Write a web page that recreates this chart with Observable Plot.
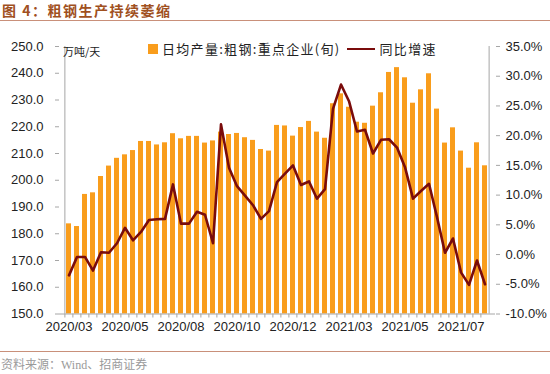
<!DOCTYPE html>
<html><head><meta charset="utf-8">
<script src="https://cdn.jsdelivr.net/npm/d3@7"></script>
<script src="https://cdn.jsdelivr.net/npm/@observablehq/plot@0.6"></script>
<style>
body{margin:0;background:#fff;width:550px;height:374px;overflow:hidden;position:relative;font-family:"Liberation Sans",Arial,sans-serif;}
#title{position:absolute;left:2px;top:0px;font:bold 14px "Noto Sans CJK SC",sans-serif;color:#A0501E;letter-spacing:1.5px;white-space:nowrap}
#tline{position:absolute;left:0;top:20px;width:550px;height:0;border-top:1.5px solid #C9907A}
#chart{position:absolute;left:0;top:22px}
#bline{position:absolute;left:0;top:351px;width:550px;height:0;border-top:1px solid #C9907A}
#source{position:absolute;left:1px;top:355px;font:12px "Liberation Serif","Noto Sans CJK SC",serif;color:#9a9a9a;white-space:nowrap}
#unit{position:absolute;left:63px;top:43px;font:11px "Noto Sans CJK SC",sans-serif;color:#222}
#legend{position:absolute;left:148px;top:39px;font:13px "Noto Sans CJK SC",sans-serif;color:#222;white-space:nowrap;display:flex;align-items:center;letter-spacing:1.3px}
#legend .sw{display:inline-block;width:10px;height:10px;margin-right:4px}
#legend .ln{display:inline-block;width:28px;height:0;border-top:2.6px solid;margin:0 5px 0 6px}
</style></head>
<body>
<div id="title">图 4：粗钢生产持续萎缩</div>
<div id="tline"></div>
<div id="chart"></div>
<div id="unit">万吨/天</div>
<div id="legend"></div>
<div id="bline"></div>
<div id="source">资料来源：Wind、招商证券</div>
<script>
// ten-day period end dates
const periods = [
 "2020-03-20","2020-03-31","2020-04-10","2020-04-20","2020-04-30","2020-05-10","2020-05-20","2020-05-31",
 "2020-06-10","2020-06-20","2020-06-30","2020-07-10","2020-07-20","2020-07-31","2020-08-10","2020-08-20",
 "2020-08-31","2020-09-10","2020-09-20","2020-09-30","2020-10-10","2020-10-20","2020-10-31","2020-11-10",
 "2020-11-20","2020-11-30","2020-12-10","2020-12-20","2020-12-31","2021-01-10","2021-01-20","2021-01-31",
 "2021-02-10","2021-02-20","2021-02-28","2021-03-10","2021-03-20","2021-03-31","2021-04-10","2021-04-20",
 "2021-04-30","2021-05-10","2021-05-20","2021-05-31","2021-06-10","2021-06-20","2021-06-30","2021-07-10",
 "2021-07-20","2021-07-31","2021-08-10","2021-08-20","2021-08-31"
];
// 日均产量:粗钢:重点企业(旬), 万吨/天
const production = [
 183.7,182.7,194.7,195.3,201.4,205.3,208.2,209.5,211.1,214.5,
 214.5,213.2,214.0,217.4,215.5,216.4,216.4,213.9,214.7,218.0,
 217.1,217.5,215.9,214.9,211.5,210.9,220.5,220.3,216.5,219.7,
 222.0,218.0,215.7,228.6,232.3,227.3,221.7,221.3,227.7,232.7,
 240.3,242.1,238.3,228.8,233.8,239.8,226.6,213.9,219.6,210.9,
 204.5,214.0,205.4
];
// 同比增速, %
const yoy = [
 -3.5,-0.4,-0.4,-2.7,0.4,0.3,1.9,4.5,2.4,3.8,
 5.8,5.95,6.0,11.8,5.2,5.2,7.2,6.7,1.9,21.9,
 14.6,11.5,9.9,8.3,6.0,7.3,12.2,13.6,15.0,11.7,
 12.3,9.4,11.0,24.5,28.6,25.8,20.7,21.0,17.0,19.3,
 19.4,18.0,14.7,9.4,10.7,11.9,6.3,0.3,2.7,-3.0,
 -5.1,-1.0,-5.0
];
const leftDomain = [150, 250];
const rightDomain = [-10, 35];
const leftTicks = [150,160,170,180,190,200,210,220,230,240,250];
const rightTicks = [-10,-5,0,5,10,15,20,25,30,35];
const labelEvery = 7;
const seriesNames = ["日均产量:粗钢:重点企业(旬)", "同比增速"];
const colors = ["#F99D1C", "#7A0C0C"];

const toLeft = p => leftDomain[0] + (p - rightDomain[0]) * (leftDomain[1]-leftDomain[0])/(rightDomain[1]-rightDomain[0]);
const fromLeft = v => rightDomain[0] + (v - leftDomain[0]) * (rightDomain[1]-rightDomain[0])/(leftDomain[1]-leftDomain[0]);

const rows = periods.map((p,i)=>({period:p, prod:production[i], yoy:yoy[i]}));
const W = 550, H = 328, mL = 59, mR = 55, mT = 24, mB = 36.5;
const step = (W - mL - mR) / periods.length;
const axisColor = "#A6A6A6";
const labelPeriods = periods.filter((d,i)=> i % labelEvery === 0);

const chart = Plot.plot({
  width: W, height: H, marginTop: mT, marginBottom: mB, marginLeft: mL, marginRight: mR,
  style: {fontFamily: "'Liberation Sans', Arial, sans-serif", fontSize: "13px", color: "#222", background: "#fff", overflow: "visible"},
  x: {type: "band", domain: periods, paddingInner: 0.36, paddingOuter: 0.18, axis: null},
  y: {domain: leftDomain, axis: null},
  marks: [
    Plot.barY(rows, {x: "period", y1: leftDomain[0], y2: "prod", fill: colors[0]}),
    Plot.line(rows, {x: "period", y: d => toLeft(d.yoy), stroke: colors[1], strokeWidth: 2.6, strokeLinejoin: "round"}),
    // axis lines
    Plot.ruleY([leftDomain[0]], {stroke: axisColor, strokeWidth: 1}),
    Plot.ruleX([periods[0]], {dx: -step/2, stroke: axisColor, y1: leftDomain[0], y2: leftDomain[1]}),
    Plot.ruleX([periods[periods.length-1]], {dx: step/2, stroke: axisColor, y1: leftDomain[0], y2: leftDomain[1]}),
    // left axis
    Plot.axisY({anchor: "left", label: null, ticks: leftTicks, tickFormat: d => d.toFixed(1), tickSize: 4, tickPadding: 12, stroke: axisColor, fill: "#222"}),
    // right axis
    Plot.axisY({anchor: "right", label: null, ticks: rightTicks.map(toLeft), tickFormat: v => fromLeft(v).toFixed(1) + "%", tickSize: 4, tickPadding: 6, stroke: axisColor, fill: "#222"}),
    // bottom boundary ticks
    Plot.axisX({label: null, ticks: periods, tickFormat: () => "", tickSize: 4, dx: -step/2, stroke: axisColor}),
    // bottom labels
    Plot.axisX({label: null, ticks: labelPeriods, tickFormat: d => d.slice(0,4) + "/" + d.slice(5,7), tickSize: 0, tickPadding: 8, fill: "#222"})
  ]
});
document.getElementById("chart").appendChild(chart);

const lg = document.getElementById("legend");
lg.innerHTML = `<span class="sw" style="background:${colors[0]}"></span><span>${seriesNames[0]}</span><span class="ln" style="border-color:${colors[1]}"></span><span>${seriesNames[1]}</span>`;
</script>
</body></html>
